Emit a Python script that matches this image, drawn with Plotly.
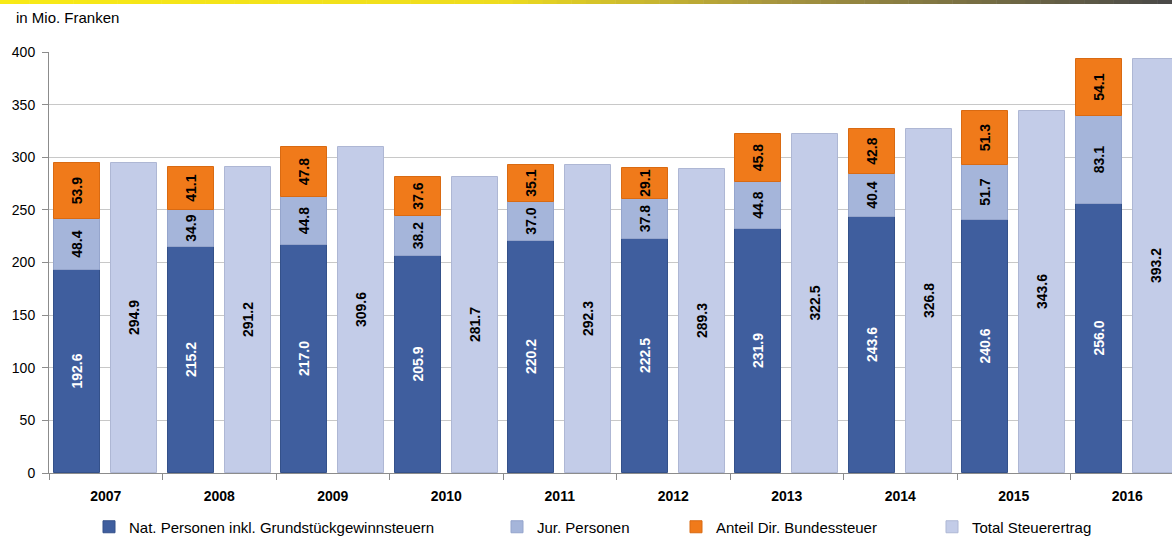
import plotly.graph_objects as go

years = ["2007", "2008", "2009", "2010", "2011", "2012", "2013", "2014", "2015", "2016"]
nat_personen = [192.6, 215.2, 217.0, 205.9, 220.2, 222.5, 231.9, 243.6, 240.6, 256.0]
jur_personen = [48.4, 34.9, 44.8, 38.2, 37.0, 37.8, 44.8, 40.4, 51.7, 83.1]
bundessteuer = [53.9, 41.1, 47.8, 37.6, 35.1, 29.1, 45.8, 42.8, 51.3, 54.1]
total = [294.9, 291.2, 309.6, 281.7, 292.3, 289.3, 322.5, 326.8, 343.6, 393.2]

FONT = "Liberation Sans, Arial, sans-serif"
idx = list(range(len(years)))
x_stack = [i - 0.25 for i in idx]
x_total = [i + 0.25 for i in idx]
W = 0.405

fig = go.Figure()

def add_bar(name, x, y, color, line, txtcolor, legend):
    fig.add_trace(go.Bar(
        name=name, x=x, y=y, width=W,
        marker=dict(color=color, line=dict(color=line, width=1)),
        texttemplate="<b>%{y:.1f}</b>", textposition="inside",
        insidetextanchor="middle", textangle=-90,
        textfont=dict(family=FONT, size=14, color=txtcolor),
        constraintext="none", legend=legend,
        hoverinfo="skip",
    ))

add_bar("Nat. Personen inkl. Grundstückgewinnsteuern", x_stack, nat_personen,
        "#3f5e9e", "#34518a", "white", "legend")
add_bar("Jur. Personen", x_stack, jur_personen, "#a5b5da", "#95a5cc", "black", "legend2")
add_bar("Anteil Dir. Bundessteuer", x_stack, bundessteuer, "#f07a1a", "#d96a12", "black", "legend3")
add_bar("Total Steuerertrag", x_total, total, "#c3cce8", "#aeb7d4", "black", "legend4")

# top gradient strip
stops = [(0, (248, 234, 22)), (500, (238, 220, 30)), (770, (168, 150, 62)), (1172, (72, 72, 72))]
def col_at(px):
    for (a, ca), (b, cb) in zip(stops[:-1], stops[1:]):
        if a <= px <= b:
            t = (px - a) / (b - a)
            return "rgb(%d,%d,%d)" % tuple(round(ca[k] + (cb[k] - ca[k]) * t) for k in range(3))
    return "rgb(72,72,72)"

L, R, T, B = 49, 0, 52, 67
PW, PH = 1172 - L - R, 540 - T - B
nseg = 80
for s in range(nseg):
    x0 = s * 1172 / nseg
    x1 = (s + 1) * 1172 / nseg
    fig.add_shape(type="rect", xref="paper", yref="paper",
                  x0=(x0 - L) / PW, x1=(x1 - L + 0.5) / PW,
                  y0=1 + (T - 4) / PH, y1=1 + T / PH,
                  line=dict(width=0), fillcolor=col_at((x0 + x1) / 2), layer="above")

fig.add_annotation(text="in Mio. Franken", xref="paper", yref="paper",
                   x=(14 - L) / PW, y=1 + (T - 18) / PH, xanchor="left", yanchor="middle",
                   showarrow=False, font=dict(family=FONT, size=15, color="#000"))

legend_text_px = [129, 537, 716, 972]
legends = {}
for k, px in enumerate(legend_text_px):
    key = "legend" if k == 0 else "legend%d" % (k + 1)
    legends[key] = dict(
        x=(px - 40 - L) / PW, y=1 - (527 - T) / PH, xanchor="left", yanchor="middle",
        orientation="h", bgcolor="rgba(0,0,0,0)", itemwidth=30,
        font=dict(family=FONT, size=15, color="#000"),
    )

fig.update_layout(
    width=1172, height=540,
    margin=dict(l=L, r=R, t=T, b=B, pad=0, autoexpand=False),
    paper_bgcolor="white", plot_bgcolor="white",
    barmode="relative", bargap=0,
    showlegend=True,
    font=dict(family=FONT, color="#000"),
    xaxis=dict(
        range=[-0.5, -0.5 + PW / 113.5],
        tickmode="array", tickvals=idx, ticktext=["<b>%s</b>" % y for y in years],
        ticks="", showgrid=False, zeroline=False,
        showline=True, linecolor="#8c8c8c", linewidth=1,
        tickfont=dict(family=FONT, size=14, color="#000"),
        ticklabelstandoff=10,
        minor=dict(tickmode="array", tickvals=[i - 0.5 for i in range(11)],
                   ticks="outside", ticklen=6, tickcolor="#8c8c8c", showgrid=False),
    ),
    yaxis=dict(
        range=[0, 400], tickmode="array", tickvals=list(range(0, 401, 50)),
        ticks="outside", ticklen=6, tickcolor="#8c8c8c",
        showgrid=True, gridcolor="#c8c8c8", gridwidth=1,
        zeroline=False, showline=True, linecolor="#8c8c8c", linewidth=1,
        tickfont=dict(family=FONT, size=14, color="#000"),
        ticklabelstandoff=4,
    ),
    **legends,
)

fig.write_html("out.html", config={"displayModeBar": False},
               post_script="document.body.style.margin='0px';document.body.style.overflow='hidden';")
